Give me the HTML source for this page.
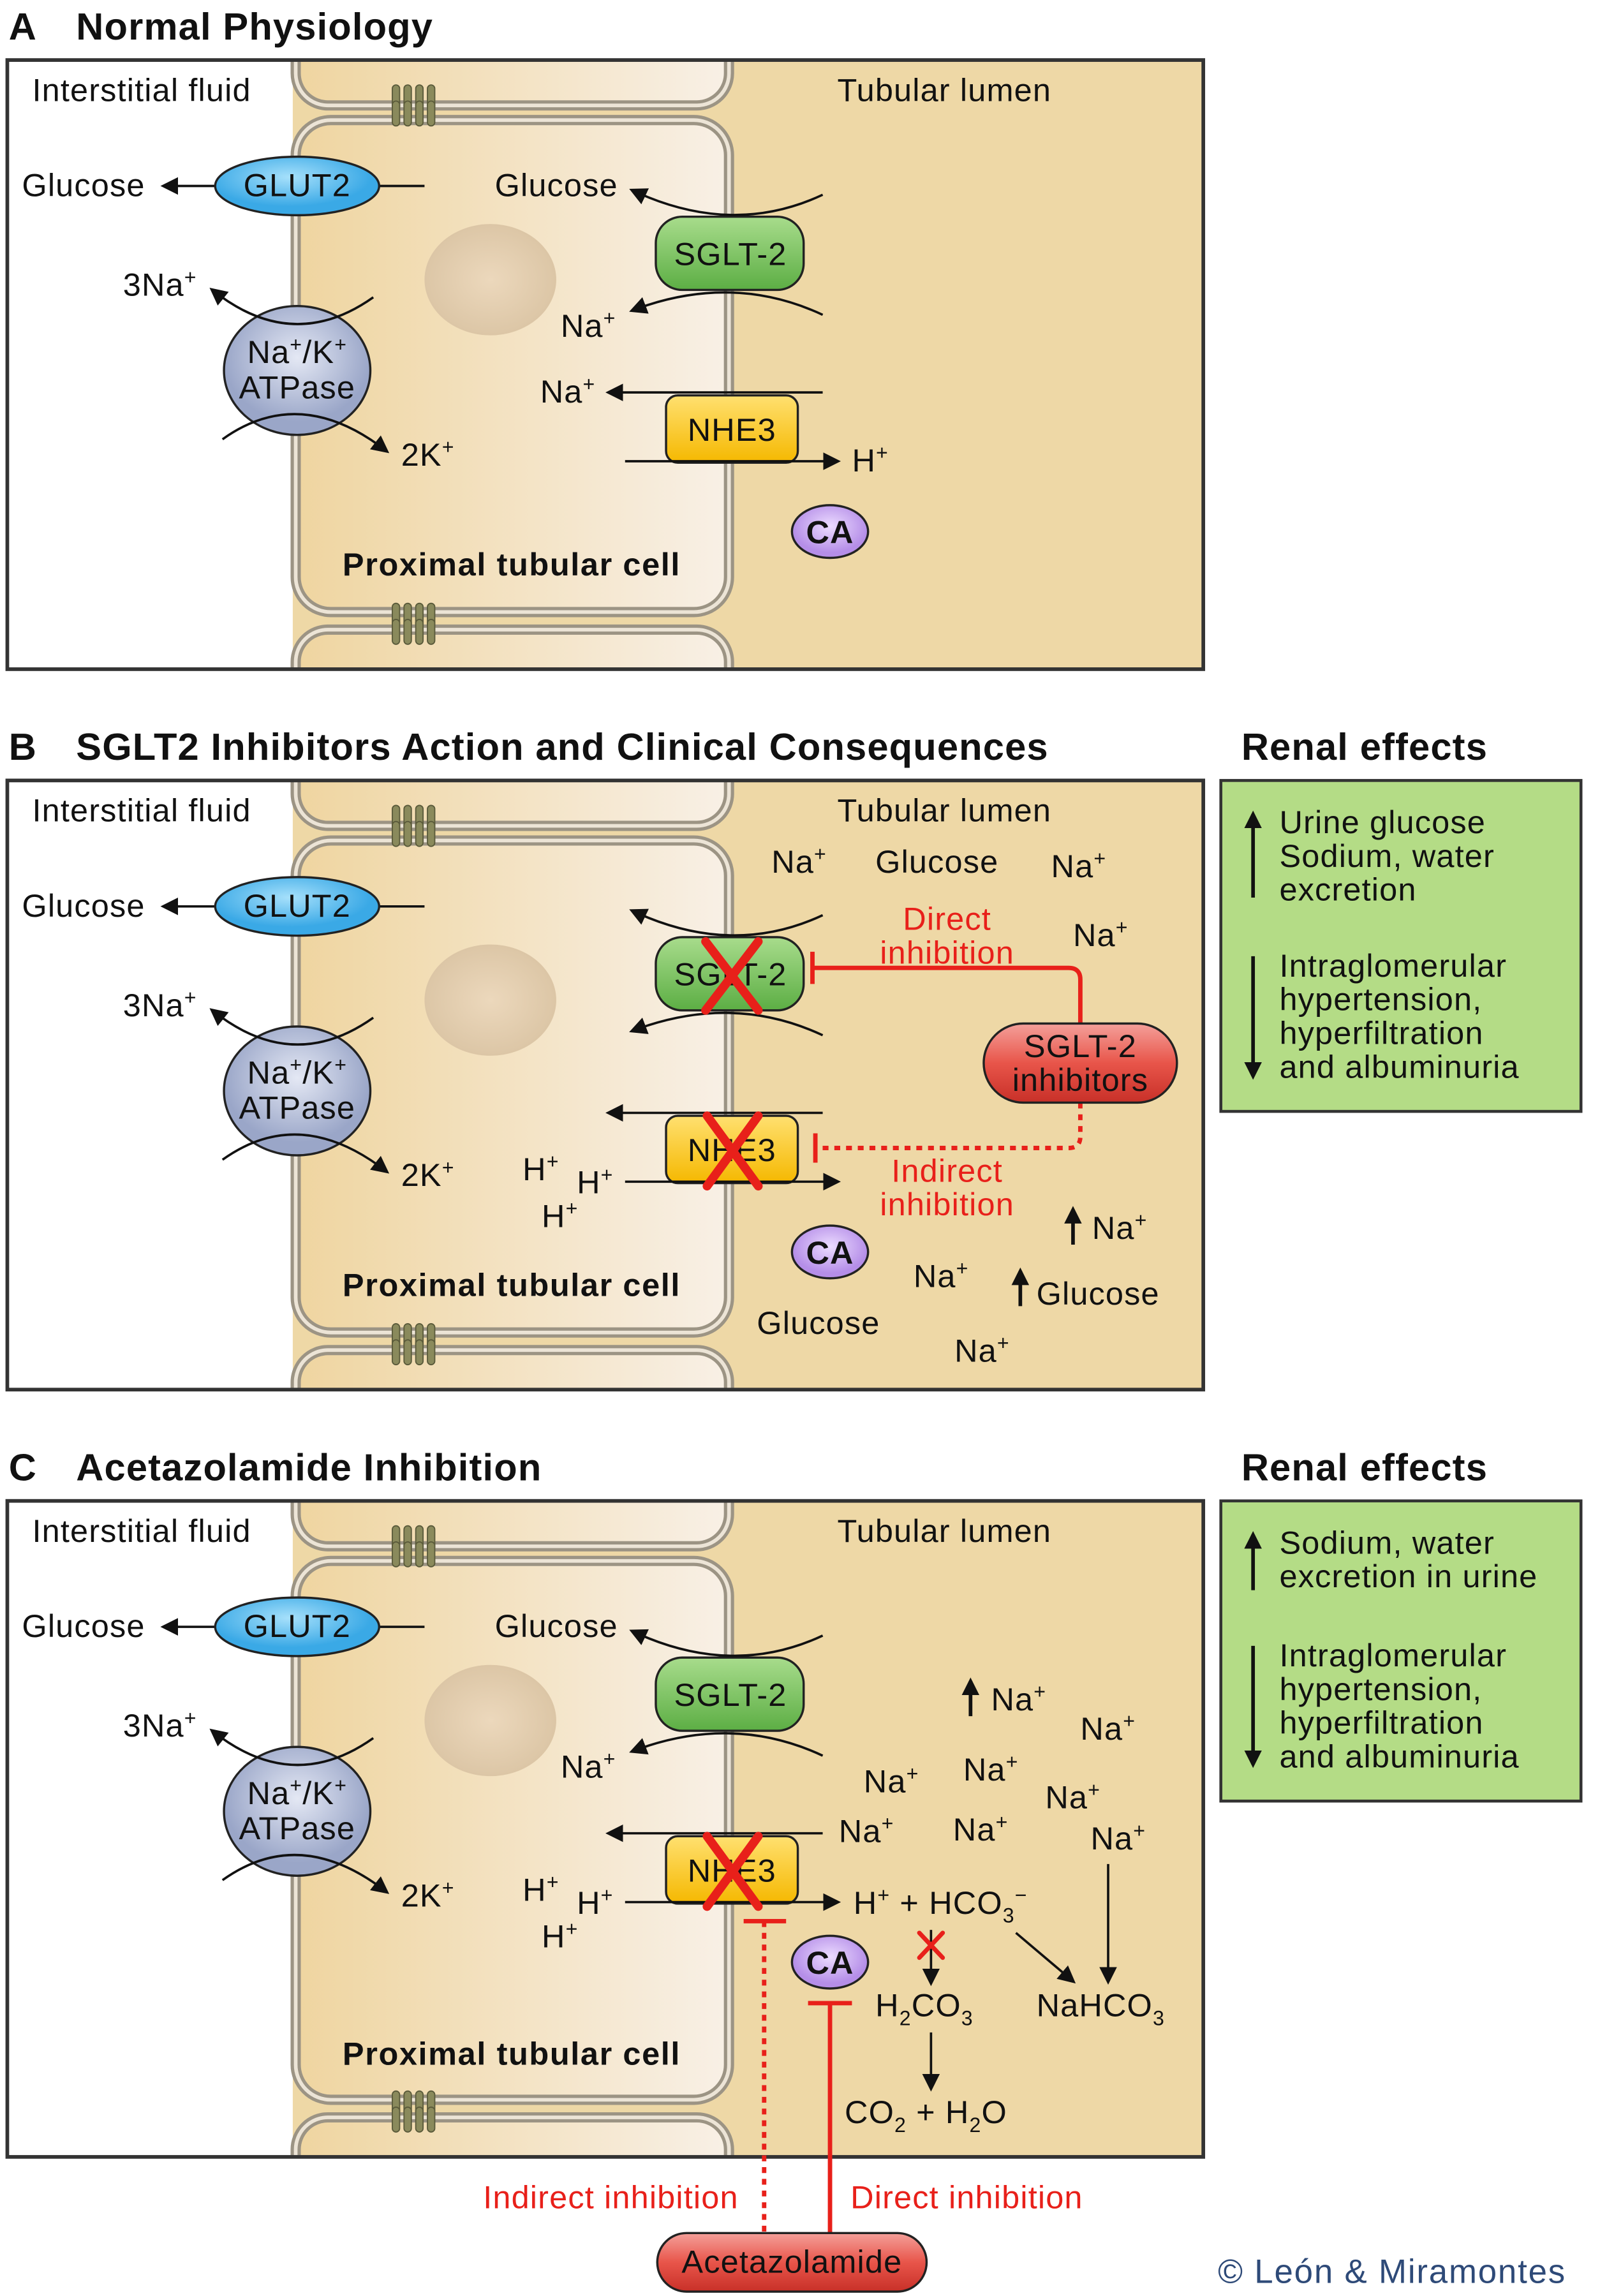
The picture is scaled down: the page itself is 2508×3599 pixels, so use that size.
<!DOCTYPE html>
<html><head><meta charset="utf-8"><style>
html,body{margin:0;padding:0;background:#fff;}
svg{display:block;}
text{font-family:"Liberation Sans",sans-serif;fill:#111;}
.t{font-size:22px;letter-spacing:0.5px;}
.ti{font-size:26px;font-weight:bold;letter-spacing:0.5px;}
.pc{font-weight:bold;letter-spacing:0.7px;}
</style></head><body>
<svg width="2508" height="3599" viewBox="0 0 1093 1568" preserveAspectRatio="none" xmlns="http://www.w3.org/2000/svg">
<defs>
<marker id="ah" viewBox="0 0 10 10" refX="8" refY="5" markerWidth="12" markerHeight="12" markerUnits="userSpaceOnUse" orient="auto"><path d="M0,0 L10,5 L0,10 z" fill="#111"/></marker>
<linearGradient id="cellg" x1="0" x2="1" y1="0" y2="0"><stop offset="0" stop-color="#efd5a0"/><stop offset="1" stop-color="#f8f0e6"/></linearGradient>
<radialGradient id="nuc"><stop offset="0" stop-color="#ecd8bc"/><stop offset="1" stop-color="#dcc6a6"/></radialGradient>
<radialGradient id="glut" cx="0.45" cy="0.35"><stop offset="0" stop-color="#a6e0fb"/><stop offset="1" stop-color="#3aa9e6"/></radialGradient>
<radialGradient id="nak" cx="0.5" cy="0.4"><stop offset="0" stop-color="#e4e8f4"/><stop offset="1" stop-color="#9aa6c8"/></radialGradient>
<linearGradient id="sg" x1="0" x2="0" y1="0" y2="1"><stop offset="0" stop-color="#a8dc8c"/><stop offset="1" stop-color="#5cae44"/></linearGradient>
<linearGradient id="nh" x1="0" x2="0" y1="0" y2="1"><stop offset="0" stop-color="#ffe070"/><stop offset="1" stop-color="#f5b800"/></linearGradient>
<radialGradient id="ca" cx="0.5" cy="0.4"><stop offset="0" stop-color="#ecdcff"/><stop offset="1" stop-color="#b58ee8"/></radialGradient>
<linearGradient id="red" x1="0" x2="0" y1="0" y2="1"><stop offset="0" stop-color="#f4a09a"/><stop offset="0.5" stop-color="#e8554a"/><stop offset="1" stop-color="#c83028"/></linearGradient>
<clipPath id="clipA"><rect x="5" y="41" width="817" height="416"/></clipPath>
<clipPath id="clipC"><rect x="5" y="41" width="817" height="448"/></clipPath>
<g id="jn"><rect x="-13" y="-14" width="5" height="17" rx="2.5" fill="#8a8a5c" stroke="#5a5a3a" stroke-width="0.8"/><rect x="-13" y="-3" width="5" height="17" rx="2.5" fill="#8a8a5c" stroke="#5a5a3a" stroke-width="0.8"/><rect x="-5" y="-14" width="5" height="17" rx="2.5" fill="#8a8a5c" stroke="#5a5a3a" stroke-width="0.8"/><rect x="-5" y="-3" width="5" height="17" rx="2.5" fill="#8a8a5c" stroke="#5a5a3a" stroke-width="0.8"/><rect x="3" y="-14" width="5" height="17" rx="2.5" fill="#8a8a5c" stroke="#5a5a3a" stroke-width="0.8"/><rect x="3" y="-3" width="5" height="17" rx="2.5" fill="#8a8a5c" stroke="#5a5a3a" stroke-width="0.8"/><rect x="11" y="-14" width="5" height="17" rx="2.5" fill="#8a8a5c" stroke="#5a5a3a" stroke-width="0.8"/><rect x="11" y="-3" width="5" height="17" rx="2.5" fill="#8a8a5c" stroke="#5a5a3a" stroke-width="0.8"/></g>
<g id="trans">
 <line x1="259" y1="127" x2="290" y2="127" stroke="#111" stroke-width="1.6"/>
 <line x1="148" y1="127" x2="112" y2="127" stroke="#111" stroke-width="1.6" marker-end="url(#ah)"/>
 <ellipse cx="203" cy="127" rx="56" ry="20" fill="url(#glut)" stroke="#222" stroke-width="1.5"/>
 <ellipse cx="203" cy="253" rx="50" ry="44" fill="url(#nak)" stroke="#222" stroke-width="1.5"/>
 <path d="M255,203 Q200,242 145,198" fill="none" stroke="#111" stroke-width="1.6" marker-end="url(#ah)"/>
 <path d="M152,300 Q205,262 264,308" fill="none" stroke="#111" stroke-width="1.6" marker-end="url(#ah)"/>
 <rect x="448" y="148" width="101" height="50" rx="18" fill="url(#sg)" stroke="#222" stroke-width="1.5"/>
 <path d="M562,133 Q500,162 432,130" fill="none" stroke="#111" stroke-width="1.6" marker-end="url(#ah)"/>
 <path d="M562,215 Q500,186 432,212" fill="none" stroke="#111" stroke-width="1.6" marker-end="url(#ah)"/>
 <line x1="562" y1="268" x2="416" y2="268" stroke="#111" stroke-width="1.6" marker-end="url(#ah)"/>
 <rect x="455" y="270" width="90" height="46" rx="8" fill="url(#nh)" stroke="#222" stroke-width="1.5"/>
 <line x1="427" y1="315" x2="572" y2="315" stroke="#111" stroke-width="1.6" marker-end="url(#ah)"/>
</g>
<g id="base">
 <rect x="5" y="41" width="817" height="416" fill="#fff"/>
 <g clip-path="url(#clipA)">
  <rect x="200" y="41" width="622" height="416" fill="#eed8a6"/>
  <rect x="202" y="-20" width="296" height="92" rx="22" fill="url(#cellg)" stroke="#9c9484" stroke-width="7"/>
  <rect x="202" y="-20" width="296" height="92" rx="22" fill="none" stroke="#ece4d6" stroke-width="2.5"/>
  <rect x="202" y="82" width="296" height="336" rx="24" fill="url(#cellg)" stroke="#9c9484" stroke-width="7"/>
  <rect x="202" y="82" width="296" height="336" rx="24" fill="none" stroke="#ece4d6" stroke-width="2.5"/>
  <rect x="202" y="430" width="296" height="90" rx="22" fill="url(#cellg)" stroke="#9c9484" stroke-width="7"/>
  <rect x="202" y="430" width="296" height="90" rx="22" fill="none" stroke="#ece4d6" stroke-width="2.5"/>
  <ellipse cx="335" cy="191" rx="45" ry="38" fill="url(#nuc)"/>
  <use href="#jn" x="281" y="72"/>
  <use href="#jn" x="281" y="426"/>
 </g>
 <rect x="5" y="41" width="817" height="416" fill="none" stroke="#333" stroke-width="2.5"/>
 <use href="#trans"/>
 <ellipse cx="567" cy="363" rx="26" ry="18" fill="url(#ca)" stroke="#222" stroke-width="1.5"/>
</g>
<g id="baseC">
 <rect x="5" y="41" width="817" height="448" fill="#fff"/>
 <g clip-path="url(#clipC)">
  <rect x="200" y="41" width="622" height="448" fill="#eed8a6"/>
  <rect x="202" y="-20" width="296" height="92" rx="22" fill="url(#cellg)" stroke="#9c9484" stroke-width="7"/>
  <rect x="202" y="-20" width="296" height="92" rx="22" fill="none" stroke="#ece4d6" stroke-width="2.5"/>
  <rect x="202" y="82" width="296" height="368" rx="24" fill="url(#cellg)" stroke="#9c9484" stroke-width="7"/>
  <rect x="202" y="82" width="296" height="368" rx="24" fill="none" stroke="#ece4d6" stroke-width="2.5"/>
  <rect x="202" y="462" width="296" height="90" rx="22" fill="url(#cellg)" stroke="#9c9484" stroke-width="7"/>
  <rect x="202" y="462" width="296" height="90" rx="22" fill="none" stroke="#ece4d6" stroke-width="2.5"/>
  <ellipse cx="335" cy="191" rx="45" ry="38" fill="url(#nuc)"/>
  <use href="#jn" x="281" y="72"/>
  <use href="#jn" x="281" y="458"/>
 </g>
 <rect x="5" y="41" width="817" height="448" fill="none" stroke="#333" stroke-width="2.5"/>
 <use href="#trans"/>
</g>
</defs>

<!-- Panel A -->
<text x="6" y="27" class="ti">A</text>
<text x="52" y="27" class="ti">Normal Physiology</text>
<use href="#base"/>
<g class="t">
<text x="22" y="69">Interstitial fluid</text>
<text x="572" y="69">Tubular lumen</text>
<text x="15" y="134">Glucose</text>
<text x="203" y="134" text-anchor="middle">GLUT2</text>
<text x="84" y="202">3Na<tspan font-size="14" dy="-8">+</tspan></text>
<text x="203" y="248" text-anchor="middle">Na<tspan font-size="14" dy="-8">+</tspan><tspan dy="8">/K</tspan><tspan font-size="14" dy="-8">+</tspan></text>
<text x="203" y="272" text-anchor="middle">ATPase</text>
<text x="274" y="318">2K<tspan font-size="14" dy="-8">+</tspan></text>
<text x="338" y="134">Glucose</text>
<text x="499" y="181" text-anchor="middle">SGLT-2</text>
<text x="383" y="230">Na<tspan font-size="14" dy="-8">+</tspan></text>
<text x="369" y="275">Na<tspan font-size="14" dy="-8">+</tspan></text>
<text x="500" y="301" text-anchor="middle">NHE3</text>
<text x="582" y="322">H<tspan font-size="14" dy="-8">+</tspan></text>
<text x="567" y="371" text-anchor="middle" font-weight="bold">CA</text>
<text x="234" y="393" class="pc">Proximal tubular cell</text>
</g>

<!-- Panel B -->
<text x="6" y="519" class="ti">B</text>
<text x="52" y="519" class="ti">SGLT2 Inhibitors Action and Clinical Consequences</text>
<text x="848" y="519" class="ti">Renal effects</text>
<use href="#base" y="492"/>
<g class="t">
<text x="22" y="561">Interstitial fluid</text>
<text x="572" y="561">Tubular lumen</text>
<text x="15" y="626">Glucose</text>
<text x="203" y="626" text-anchor="middle">GLUT2</text>
<text x="84" y="694">3Na<tspan font-size="14" dy="-8">+</tspan></text>
<text x="203" y="740" text-anchor="middle">Na<tspan font-size="14" dy="-8">+</tspan><tspan dy="8">/K</tspan><tspan font-size="14" dy="-8">+</tspan></text>
<text x="203" y="764" text-anchor="middle">ATPase</text>
<text x="274" y="810">2K<tspan font-size="14" dy="-8">+</tspan></text>
<text x="499" y="673" text-anchor="middle">SGLT-2</text>
<text x="500" y="793" text-anchor="middle">NHE3</text>
<text x="567" y="863" text-anchor="middle" font-weight="bold">CA</text>
<text x="234" y="885" class="pc">Proximal tubular cell</text>
<text x="357" y="806">H<tspan font-size="14" dy="-8">+</tspan></text>
<text x="394" y="815">H<tspan font-size="14" dy="-8">+</tspan></text>
<text x="370" y="838">H<tspan font-size="14" dy="-8">+</tspan></text>
<text x="527" y="596">Na<tspan font-size="14" dy="-8">+</tspan></text>
<text x="598" y="596">Glucose</text>
<text x="718" y="599">Na<tspan font-size="14" dy="-8">+</tspan></text>
<text x="733" y="646">Na<tspan font-size="14" dy="-8">+</tspan></text>
<text x="746" y="846">Na<tspan font-size="14" dy="-8">+</tspan></text>
<text x="624" y="879">Na<tspan font-size="14" dy="-8">+</tspan></text>
<text x="708" y="891">Glucose</text>
<text x="517" y="911">Glucose</text>
<text x="652" y="930">Na<tspan font-size="14" dy="-8">+</tspan></text>
</g>
<line x1="733" y1="850" x2="733" y2="826" stroke="#111" stroke-width="2.5" marker-end="url(#ah)"/>
<line x1="697" y1="892" x2="697" y2="868" stroke="#111" stroke-width="2.5" marker-end="url(#ah)"/>
<g stroke="#e8201a" stroke-width="6" stroke-linecap="round">
<line x1="482" y1="643" x2="518" y2="690"/><line x1="518" y1="643" x2="482" y2="690"/>
<line x1="483" y1="762" x2="518" y2="810"/><line x1="518" y1="762" x2="483" y2="810"/>
</g>
<g stroke="#e8201a" stroke-width="3" fill="none">
<line x1="555" y1="650" x2="555" y2="672"/>
<path d="M555,661 H730 Q738,661 738,669 V700"/>
<path d="M738,753 V776 Q738,784 730,784 H557" stroke-dasharray="4,4"/>
<line x1="557" y1="774" x2="557" y2="794"/>
</g>
<g class="t">
<text x="647" y="635" text-anchor="middle" style="fill:#e8201a">Direct</text>
<text x="647" y="658" text-anchor="middle" style="fill:#e8201a">inhibition</text>
<text x="647" y="807" text-anchor="middle" style="fill:#e8201a">Indirect</text>
<text x="647" y="830" text-anchor="middle" style="fill:#e8201a">inhibition</text>
</g>
<rect x="672" y="699" width="132" height="54" rx="27" fill="url(#red)" stroke="#222" stroke-width="1.5"/>
<text x="738" y="722" class="t" text-anchor="middle">SGLT-2</text>
<text x="738" y="745" class="t" text-anchor="middle">inhibitors</text>
<rect x="834" y="533" width="246" height="226" fill="#b4dc86" stroke="#333" stroke-width="2"/>
<line x1="856" y1="613" x2="856" y2="556" stroke="#111" stroke-width="2.5" marker-end="url(#ah)"/>
<line x1="856" y1="653" x2="856" y2="735" stroke="#111" stroke-width="2.5" marker-end="url(#ah)"/>
<g class="t">
<text x="874" y="569">Urine glucose</text>
<text x="874" y="592">Sodium, water</text>
<text x="874" y="615">excretion</text>
<text x="874" y="667">Intraglomerular</text>
<text x="874" y="690">hypertension,</text>
<text x="874" y="713">hyperfiltration</text>
<text x="874" y="736">and albuminuria</text>
</g>

<!-- Panel C -->
<text x="6" y="1011" class="ti">C</text>
<text x="52" y="1011" class="ti">Acetazolamide Inhibition</text>
<text x="848" y="1011" class="ti">Renal effects</text>
<use href="#baseC" y="984"/>
<ellipse cx="567" cy="1340" rx="26" ry="18" fill="url(#ca)" stroke="#222" stroke-width="1.5"/>
<g class="t">
<text x="22" y="1053">Interstitial fluid</text>
<text x="572" y="1053">Tubular lumen</text>
<text x="15" y="1118">Glucose</text>
<text x="203" y="1118" text-anchor="middle">GLUT2</text>
<text x="84" y="1186">3Na<tspan font-size="14" dy="-8">+</tspan></text>
<text x="203" y="1232" text-anchor="middle">Na<tspan font-size="14" dy="-8">+</tspan><tspan dy="8">/K</tspan><tspan font-size="14" dy="-8">+</tspan></text>
<text x="203" y="1256" text-anchor="middle">ATPase</text>
<text x="274" y="1302">2K<tspan font-size="14" dy="-8">+</tspan></text>
<text x="338" y="1118">Glucose</text>
<text x="499" y="1165" text-anchor="middle">SGLT-2</text>
<text x="383" y="1214">Na<tspan font-size="14" dy="-8">+</tspan></text>
<text x="500" y="1285" text-anchor="middle">NHE3</text>
<text x="567" y="1348" text-anchor="middle" font-weight="bold">CA</text>
<text x="234" y="1410" class="pc">Proximal tubular cell</text>
<text x="357" y="1298">H<tspan font-size="14" dy="-8">+</tspan></text>
<text x="394" y="1307">H<tspan font-size="14" dy="-8">+</tspan></text>
<text x="370" y="1330">H<tspan font-size="14" dy="-8">+</tspan></text>
<text x="677" y="1168">Na<tspan font-size="14" dy="-8">+</tspan></text>
<text x="738" y="1188">Na<tspan font-size="14" dy="-8">+</tspan></text>
<text x="590" y="1224">Na<tspan font-size="14" dy="-8">+</tspan></text>
<text x="658" y="1216">Na<tspan font-size="14" dy="-8">+</tspan></text>
<text x="714" y="1235">Na<tspan font-size="14" dy="-8">+</tspan></text>
<text x="573" y="1258">Na<tspan font-size="14" dy="-8">+</tspan></text>
<text x="651" y="1257">Na<tspan font-size="14" dy="-8">+</tspan></text>
<text x="745" y="1263">Na<tspan font-size="14" dy="-8">+</tspan></text>
<text x="583" y="1307">H<tspan font-size="14" dy="-8">+</tspan><tspan dy="8"> + HCO</tspan><tspan font-size="14" dy="6">3</tspan><tspan font-size="14" dy="-14">−</tspan></text>
<text x="598" y="1377">H<tspan font-size="14" dy="6">2</tspan><tspan dy="-6">CO</tspan><tspan font-size="14" dy="6">3</tspan></text>
<text x="708" y="1377">NaHCO<tspan font-size="14" dy="6">3</tspan></text>
<text x="577" y="1450">CO<tspan font-size="14" dy="6">2</tspan><tspan dy="-6"> + H</tspan><tspan font-size="14" dy="6">2</tspan><tspan dy="-6">O</tspan></text>
</g>
<line x1="663" y1="1172" x2="663" y2="1148" stroke="#111" stroke-width="2.5" marker-end="url(#ah)"/>
<line x1="636" y1="1318" x2="636" y2="1354" stroke="#111" stroke-width="1.6" marker-end="url(#ah)"/>
<line x1="636" y1="1388" x2="636" y2="1426" stroke="#111" stroke-width="1.6" marker-end="url(#ah)"/>
<line x1="694" y1="1320" x2="733" y2="1353" stroke="#111" stroke-width="1.6" marker-end="url(#ah)"/>
<line x1="757" y1="1273" x2="757" y2="1353" stroke="#111" stroke-width="1.6" marker-end="url(#ah)"/>
<g stroke="#e8201a" stroke-linecap="round">
<line x1="628" y1="1320" x2="644" y2="1337" stroke-width="3"/><line x1="644" y1="1320" x2="628" y2="1337" stroke-width="3"/>
<line x1="483" y1="1254" x2="518" y2="1302" stroke-width="6"/><line x1="518" y1="1254" x2="483" y2="1302" stroke-width="6"/>
</g>
<g stroke="#e8201a" stroke-width="3" fill="none">
<line x1="508" y1="1312" x2="537" y2="1312"/>
<line x1="522" y1="1312" x2="522" y2="1525" stroke-dasharray="4,4"/>
<line x1="552" y1="1368" x2="582" y2="1368"/>
<line x1="567" y1="1368" x2="567" y2="1525"/>
</g>
<text x="330" y="1508" class="t" style="fill:#e8201a">Indirect inhibition</text>
<text x="581" y="1508" class="t" style="fill:#e8201a">Direct inhibition</text>
<rect x="449" y="1525" width="184" height="40" rx="20" fill="url(#red)" stroke="#222" stroke-width="1.5"/>
<text x="541" y="1552" class="t" text-anchor="middle">Acetazolamide</text>
<rect x="834" y="1025" width="246" height="205" fill="#b4dc86" stroke="#333" stroke-width="2"/>
<line x1="856" y1="1086" x2="856" y2="1048" stroke="#111" stroke-width="2.5" marker-end="url(#ah)"/>
<line x1="856" y1="1124" x2="856" y2="1205" stroke="#111" stroke-width="2.5" marker-end="url(#ah)"/>
<g class="t">
<text x="874" y="1061">Sodium, water</text>
<text x="874" y="1084">excretion in urine</text>
<text x="874" y="1138">Intraglomerular</text>
<text x="874" y="1161">hypertension,</text>
<text x="874" y="1184">hyperfiltration</text>
<text x="874" y="1207">and albuminuria</text>
</g>
<text x="832" y="1559" style="fill:#2e4a78;font-size:23px;letter-spacing:0.8px">© León &amp; Miramontes</text>
</svg>
</body></html>
